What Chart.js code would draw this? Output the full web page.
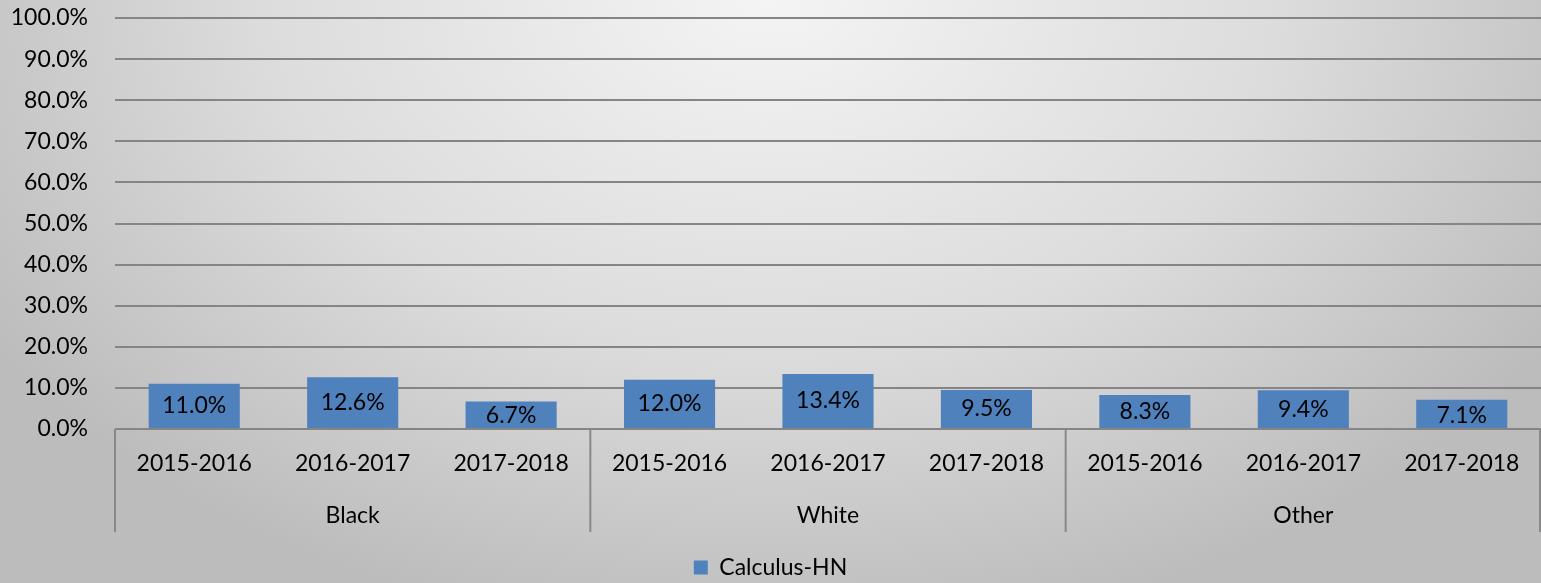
<!DOCTYPE html>
<html>
<head>
<meta charset="UTF-8">
<title>Calculus-HN</title>
<script src="https://cdn.jsdelivr.net/npm/chart.js"></script>
<style>
  html, body { margin: 0; padding: 0; }
  body {
    width: 1541px; height: 583px; overflow: hidden;
    background: radial-gradient(ellipse 60% 110% at 50% 0%, #f4f4f4 0%, #dcdcdc 55%, #bcbcbc 100%);
  }
</style>
</head>
<body>
<canvas id="chart" width="1541" height="583"></canvas>
<script>
// data
const years = ['2015-2016', '2016-2017', '2017-2018', '2015-2016', '2016-2017', '2017-2018', '2015-2016', '2016-2017', '2017-2018'];
const groups = ['Black', 'White', 'Other'];
const calculusHN = [11.0, 12.6, 6.7, 12.0, 13.4, 9.5, 8.3, 9.4, 7.1];
const seriesName = 'Calculus-HN';

const FONT = 'Lato, "Open Sans", sans-serif';
const FSIZE = 23;

// value labels centred in each bar
const barLabels = {
    id: 'barLabels',
    afterDatasetsDraw(chart) {
        const ctx = chart.ctx;
        const meta = chart.getDatasetMeta(0);
        ctx.save();
        ctx.font = FSIZE + 'px ' + FONT;
        ctx.fillStyle = '#000';
        ctx.textAlign = 'center';
        ctx.textBaseline = 'middle';
        meta.data.forEach((bar, i) => {
            let y = (bar.y + bar.base) / 2;
            if (bar.base - bar.y < 30) y = bar.base - 12;
            ctx.fillText(calculusHN[i].toFixed(1) + '%', bar.x, y);
        });
        ctx.restore();
    }
};

// vertical separators between the groups on the two-level axis
const groupLines = {
    id: 'groupLines',
    afterDraw(chart) {
        const x = chart.scales.x;
        const x2 = chart.scales.x2;
        const step = x.width / years.length;
        const per = years.length / groups.length;
        const ctx = chart.ctx;
        ctx.save();
        ctx.strokeStyle = '#888';
        ctx.lineWidth = 2;
        for (let g = 0; g <= groups.length; g++) {
            let px = x.getPixelForValue(g * per) - step / 2;
            if (g === groups.length) px = x.right - 1;
            if (g === 0) px = x.left;
            ctx.beginPath();
            ctx.moveTo(px, chart.chartArea.bottom);
            ctx.lineTo(px, x2.top + 43);
            ctx.stroke();
        }
        ctx.restore();
    }
};

new Chart(document.getElementById('chart'), {
    type: 'bar',
    data: {
        labels: years,
        datasets: [{
            label: seriesName,
            data: calculusHN,
            backgroundColor: '#4f81bd',
            barPercentage: 1,
            categoryPercentage: 0.575
        }]
    },
    options: {
        responsive: false,
        animation: false,
        layout: { padding: { top: 0, left: 0, right: 0, bottom: -6 } },
        scales: {
            y: {
                min: 0,
                max: 100,
                ticks: {
                    stepSize: 10,
                    color: '#000',
                    font: { family: FONT, size: FSIZE },
                    padding: 27,
                    callback: (v) => v.toFixed(1) + '%'
                },
                grid: { color: '#858585', lineWidth: 2, drawTicks: false },
                border: { display: false },
                afterFit: (s) => { s.width = 115; s.paddingTop = 18; s.paddingBottom = 0; }
            },
            x: {
                ticks: {
                    color: '#000',
                    font: { family: FONT, size: FSIZE },
                    padding: 13,
                    maxRotation: 0,
                    autoSkip: false
                },
                grid: { display: false },
                border: { display: false },
                afterFit: (s) => { s.height = 60; }
            },
            x2: {
                type: 'category',
                labels: groups,
                position: 'bottom',
                offset: true,
                ticks: {
                    color: '#000',
                    font: { family: FONT, size: FSIZE },
                    padding: 5,
                    maxRotation: 0
                },
                grid: { display: false },
                border: { display: false },
                afterFit: (s) => { s.height = 67; }
            }
        },
        plugins: {
            legend: {
                position: 'bottom',
                labels: {
                    color: '#000',
                    font: { family: FONT, size: FSIZE },
                    boxWidth: 14,
                    boxHeight: 14,
                    padding: 0
                }
            },
            tooltip: { enabled: false }
        }
    },
    plugins: [barLabels, groupLines]
});
</script>
</body>
</html>
